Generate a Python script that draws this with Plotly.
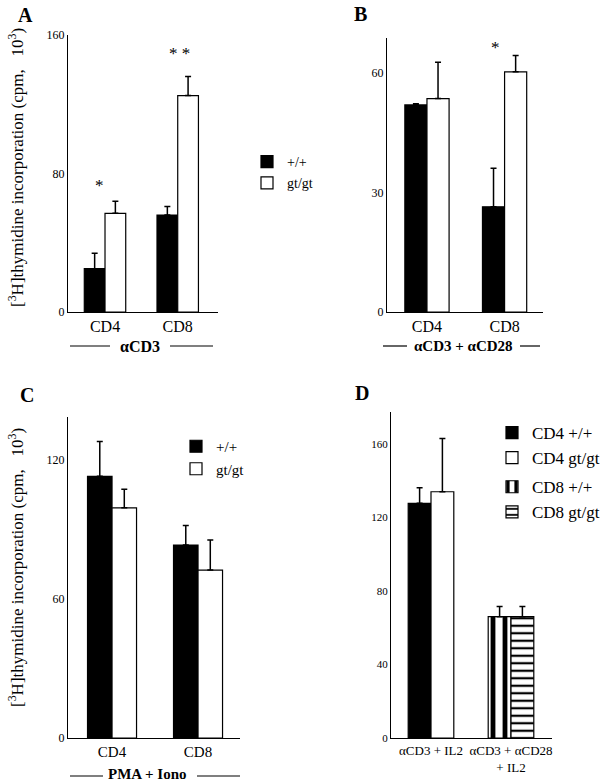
import plotly.graph_objects as go

W, H = 608, 784
FONT = "Liberation Serif, Times New Roman, serif"

# ---------------- data ----------------
# Panel A (alpha-CD3)
a_cats = ["CD4", "CD8"]
a_wt = [25, 56]
a_wt_err = [9, 5]
a_gt = [57, 125]
a_gt_err = [7, 11]
a_ticks = [0, 80, 160]

# Panel B (alpha-CD3 + alpha-CD28)
b_cats = ["CD4", "CD8"]
b_wt = [52, 26.4]
b_wt_err = [0.3, 9.7]
b_gt = [53.6, 60.3]
b_gt_err = [9.1, 4.1]
b_ticks = [0, 30, 60]

# Panel C (PMA + Iono)
c_cats = ["CD4", "CD8"]
c_wt = [113, 83.3]
c_wt_err = [15, 8.5]
c_gt = [99.4, 72.5]
c_gt_err = [8, 13]
c_ticks = [0, 60, 120]

# Panel D
d_cats = ["αCD3 + IL2", "αCD3 + αCD28<br>+ IL2"]
d_cd4_wt = [127.7]
d_cd4_wt_err = [8.5]
d_cd4_gt = [134]
d_cd4_gt_err = [29]
d_cd8_wt = [66]
d_cd8_wt_err = [5.5]
d_cd8_gt = [66]
d_cd8_gt_err = [5.5]
d_ticks = [0, 40, 80, 120, 160]


def fx(px):
    return px / W


def fy(py):
    return 1 - py / H


def bar(x, y, err, name, color, xa, ya, legend="legend", showlegend=False,
        pattern=None, offsetgroup=None, legendgroup=None):
    marker = dict(color=color, line=dict(color="black", width=1.2))
    if pattern:
        marker["pattern"] = pattern
    return go.Bar(
        x=x, y=y, name=name, xaxis=xa, yaxis=ya,
        marker=marker,
        error_y=dict(type="data", symmetric=False, array=err,
                     arrayminus=[0] * len(err), color="black",
                     thickness=1.5, width=3),
        showlegend=showlegend, legend=legend,
        offsetgroup=offsetgroup, legendgroup=legendgroup,
    )


fig = go.Figure()
# A
fig.add_trace(bar(a_cats, a_wt, a_wt_err, "+/+", "black", "x", "y", "legend", True))
fig.add_trace(bar(a_cats, a_gt, a_gt_err, "gt/gt", "white", "x", "y", "legend", True))
# B
fig.add_trace(bar(b_cats, b_wt, b_wt_err, "+/+", "black", "x2", "y2"))
fig.add_trace(bar(b_cats, b_gt, b_gt_err, "gt/gt", "white", "x2", "y2"))
# C
fig.add_trace(bar(c_cats, c_wt, c_wt_err, "+/+", "black", "x3", "y3", "legend2", True))
fig.add_trace(bar(c_cats, c_gt, c_gt_err, "gt/gt", "white", "x3", "y3", "legend2", True))
# D
fig.add_trace(bar([d_cats[0]], d_cd4_wt, d_cd4_wt_err, "CD4 +/+", "black", "x4", "y4",
                  "legend3", True, offsetgroup="a", legendgroup="cd4"))
fig.add_trace(bar([d_cats[0]], d_cd4_gt, d_cd4_gt_err, "CD4 gt/gt", "white", "x4", "y4",
                  "legend3", True, offsetgroup="b", legendgroup="cd4"))
fig.add_trace(bar([d_cats[1]], d_cd8_wt, d_cd8_wt_err, "CD8 +/+", "white", "x4", "y4",
                  "legend3", True, offsetgroup="a", legendgroup="cd8",
                  pattern=dict(shape="|", fgcolor="black", bgcolor="white",
                               size=12, solidity=0.4, fillmode="replace")))
fig.add_trace(bar([d_cats[1]], d_cd8_gt, d_cd8_gt_err, "CD8 gt/gt", "white", "x4", "y4",
                  "legend3", True, offsetgroup="b", legendgroup="cd8",
                  pattern=dict(shape="-", fgcolor="black", bgcolor="white",
                               size=7.5, solidity=0.3, fillmode="replace")))


def xaxis(dom, rng, cats, anchor, size):
    return dict(domain=[fx(dom[0]), fx(dom[1])], range=rng, type="category",
                categoryorder="array", categoryarray=cats,
                showline=True, linecolor="black", linewidth=1.2, ticks="",
                showgrid=False, zeroline=False, anchor=anchor, tickangle=0,
                tickfont=dict(family=FONT, size=size, color="black"))


def yaxis(dom, top, tickvals, anchor, size):
    return dict(domain=[fy(dom[1]), fy(dom[0])], range=[0, top],
                tickvals=tickvals, showline=True, linecolor="black",
                linewidth=1.2, ticks="", showgrid=False, zeroline=False,
                anchor=anchor, tickfont=dict(family=FONT, size=size, color="black"))


ytitle = "[<sup>3</sup>H]thymidine incorporation (cpm,&nbsp;&nbsp;&nbsp;10<sup>3</sup>)"


def ann(text, x, y, size, xref="paper", yref="paper", angle=0, xshift=0, yshift=0):
    if xref == "paper":
        x = fx(x)
    if yref == "paper":
        y = fy(y)
    return dict(text=text, x=x, y=y, xref=xref, yref=yref, showarrow=False,
                xanchor="center", yanchor="middle", textangle=angle,
                xshift=xshift, yshift=yshift,
                font=dict(family=FONT, size=size, color="black"))


annotations = [
    ann("<b>A</b>", 25, 15, 20),
    ann("<b>B</b>", 360, 14, 20),
    ann("<b>C</b>", 27, 395, 20),
    ann("<b>D</b>", 362, 393, 20),
    ann(ytitle, 16, 168, 17, angle=-90),
    ann(ytitle, 16, 568, 17, angle=-90),
    # significance stars
    ann("*", a_cats[0], 74, 17, xref="x", yref="y", xshift=-6, yshift=-2),
    ann("* *", a_cats[1], 150, 17, xref="x", yref="y", xshift=2, yshift=-1),
    ann("*", b_cats[1], 67, 17, xref="x2", yref="y2", xshift=-9, yshift=-2),
    # stimulus labels
    ann("<b>αCD3</b>", 140, 346, 16),
    ann("<b>αCD3 + αCD28</b>", 463, 346, 15),
    ann("<b>PMA + Iono</b>", 147, 774, 15),
]

shapes = []
for (x0, x1, yy) in [(70, 110, 346), (170, 213, 346), (383, 407, 346), (520, 540, 346),
                     (70, 103, 776), (197, 240, 776)]:
    shapes.append(dict(type="line", xref="paper", yref="paper", x0=fx(x0), x1=fx(x1),
                       y0=fy(yy), y1=fy(yy), line=dict(color="black", width=1.2)))

fig.update_layout(
    template="none",
    width=W, height=H, margin=dict(l=0, r=0, t=0, b=0),
    paper_bgcolor="white", plot_bgcolor="white",
    barmode="group", bargap=0.43, bargroupgap=0,
    font=dict(family=FONT, color="black"),
    xaxis=xaxis((68, 218), [-0.509, 1.554], a_cats, "y", 16),
    yaxis=yaxis((35, 312), 160, a_ticks, "x", 12),
    xaxis2=xaxis((387, 543), [-0.515, 1.495], b_cats, "y2", 16),
    yaxis2=yaxis((38, 312), 68.8, b_ticks, "x2", 12),
    xaxis3=xaxis((68, 240), [-0.512, 1.488], c_cats, "y3", 15),
    yaxis3=yaxis((417, 738), 138.6, c_ticks, "x3", 12),
    xaxis4=xaxis((391, 552), [-0.5, 1.5125], d_cats, "y4", 13),
    yaxis4=yaxis((412, 738), 177.4, d_ticks, "x4", 11),
    legend=dict(x=fx(247), y=fy(146), xanchor="left", yanchor="top",
                bgcolor="rgba(0,0,0,0)", font=dict(family=FONT, size=14, color="black"),
                tracegroupgap=0),
    legend2=dict(x=fx(176), y=fy(430), xanchor="left", yanchor="top",
                 bgcolor="rgba(0,0,0,0)", font=dict(family=FONT, size=15, color="black"),
                 tracegroupgap=0),
    legend3=dict(x=fx(492), y=fy(415), xanchor="left", yanchor="top",
                 bgcolor="rgba(0,0,0,0)", font=dict(family=FONT, size=17, color="black"),
                 tracegroupgap=4, traceorder="grouped"),
    annotations=annotations,
    shapes=shapes,
)

fig.write_html("out.html", config={"displayModeBar": False},
               post_script="document.body.style.margin='0';")
